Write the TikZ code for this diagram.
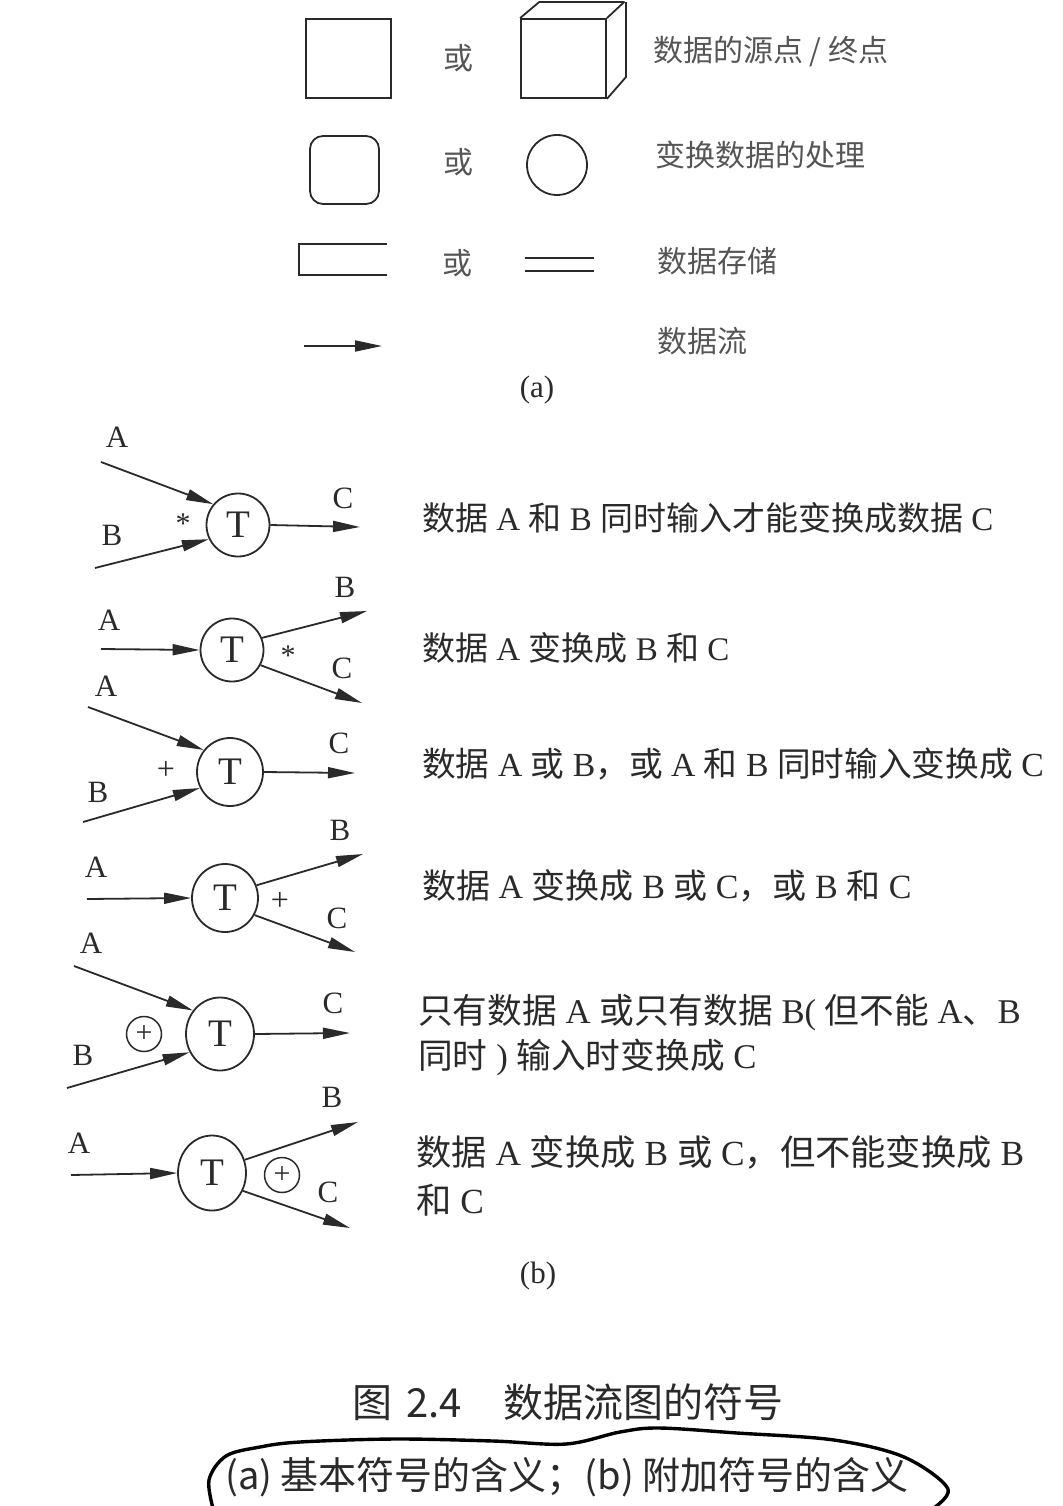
\documentclass[tikz,border=0pt]{standalone}
\usepackage{fontspec}
\setmainfont{Liberation Serif}
\newfontfamily\cjk{Noto Sans CJK SC}
\usetikzlibrary{arrows.meta,shapes.geometric}
\newcommand\zh[1]{{\cjk #1}}
\definecolor{ink}{HTML}{2A2A2A}
\definecolor{softink}{HTML}{555555}

\begin{document}
\begin{tikzpicture}[x=1pt,y=-1pt,
  shape line/.style={draw=ink, line width=1.8pt},
  flow/.style={draw=ink, line width=1.8pt, -{Triangle[length=27pt,width=11pt]}},
  proc/.style={ellipse, draw=ink, line width=1.8pt, inner sep=0pt, text=ink,
               font=\fontsize{39}{39}\selectfont},
  xorc/.style={circle, draw=ink, line width=1.5pt, inner sep=0pt, minimum size=35pt,
               text=ink, font=\fontsize{30}{30}\selectfont},
  lbl/.style={text=ink, inner sep=0pt, font=\fontsize{31}{31}\selectfont},
  opmark/.style={text=ink, inner sep=0pt, font=\fontsize{30}{30}\selectfont},
  plusmark/.style={text=ink, inner sep=0pt, font=\fontsize{32}{32}\selectfont},
  legend/.style={anchor=west, inner sep=0pt, text=softink, font=\fontsize{30}{30}\cjk},
  ortxt/.style={inner sep=0pt, text=softink, font=\fontsize{30}{30}\cjk},
  meaning/.style={anchor=west, inner sep=0pt, text=ink, align=left},
]
\useasboundingbox (0,0) rectangle (1062,1506);
\clip (0,0) rectangle (1062,1506);
\fill[white] (0,0) rectangle (1062,1506);

% ---------- (a) basic symbols ----------
% source / sink
\node[shape line, minimum width=85pt, minimum height=79pt] (src) at (348.5,58.5) {};
\node[ortxt] (or1) at (458,58) {或};
\node[shape line, minimum width=85pt, minimum height=79pt] (cube) at (563.5,58.5) {};
\draw[shape line, line join=round] (cube.north west) -- ++(19,-16) -- ++(85,0) -- (cube.north east);
\draw[shape line, line join=round] (cube.north east) ++(19,-16) -- ++(0,75) -- (cube.south east);
\node[legend] (t-src) at (653,52) {数据的源点 / 终点};

% process
\node[shape line, rounded corners=13pt, minimum width=69pt, minimum height=68pt] (prc) at (344.5,170) {};
\node[ortxt] (or2) at (458,162) {或};
\node[shape line, circle, minimum size=60pt, inner sep=0pt] (bubble) at (557,165) {};
\node[legend] (t-prc) at (655,155) {变换数据的处理};

% data store
\draw[shape line] (387,244) -- (299,244) -- (299,275) -- (387,275);
\node[ortxt] (or3) at (457,263) {或};
\draw[shape line] (525,258) -- (594,258);
\draw[shape line] (525,271) -- (594,271);
\node[legend] (t-store) at (657,261) {数据存储};

% data flow
\coordinate (fs) at (304,346);
\coordinate (fe) at (382,346);
\draw[flow] (fs) -- (fe);
\node[legend] (t-flow) at (657,341) {数据流};

\node[lbl] (cap-a) at (537,390) {(a)};

% ---------- (b) additional symbols ----------
% row 1: A and B together -> C
\node[proc, minimum width=63pt, minimum height=63pt] (t1) at (238,525) {T};
\coordinate (a1) at (101,462);
\coordinate (b1) at (95,568);
\coordinate (c1) at (360,527);
\draw[flow] (a1) -- (t1.140);
\draw[flow] (b1) -- (t1.206);
\draw[flow] (t1.east) -- (c1);
\node[lbl] (la1) at (117,437) {A};
\node[lbl] (lb1) at (112,535) {B};
\node[lbl] (lc1) at (343,498) {C};
\node[opmark] (m1) at (183,524) {*};

% row 2: A -> B and C
\node[proc, minimum width=63pt, minimum height=63pt] (t2) at (232,650) {T};
\coordinate (a2) at (101,649);
\coordinate (b2) at (367,611);
\coordinate (c2) at (362,703);
\draw[flow] (a2) -- (t2.west);
\draw[flow] (t2.22) -- (b2);
\draw[flow] (t2.-28) -- (c2);
\node[lbl] (la2) at (109,620) {A};
\node[lbl] (lb2) at (345,587) {B};
\node[lbl] (lc2) at (342,668) {C};
\node[opmark] (m2) at (288,656) {*};

% row 3: A or B (or both) -> C
\node[proc, minimum width=66pt, minimum height=68pt] (t3) at (230,772) {T};
\coordinate (a3) at (88,707);
\coordinate (b3) at (83,822);
\coordinate (c3) at (355,773);
\draw[flow] (a3) -- (t3.140);
\draw[flow] (b3) -- (t3.208);
\draw[flow] (t3.east) -- (c3);
\node[lbl] (la3) at (106,686) {A};
\node[lbl] (lb3) at (98,792) {B};
\node[lbl] (lc3) at (339,743) {C};
\node[plusmark] (m3) at (166,770) {+};

% row 4: A -> B or C (or both)
\node[proc, minimum width=66pt, minimum height=68pt] (t4) at (225,898) {T};
\coordinate (a4) at (87,899);
\coordinate (b4) at (363,854);
\coordinate (c4) at (355,952);
\draw[flow] (a4) -- (t4.west);
\draw[flow] (t4.22) -- (b4);
\draw[flow] (t4.-30) -- (c4);
\node[lbl] (la4) at (96,867) {A};
\node[lbl] (lb4) at (340,830) {B};
\node[lbl] (lc4) at (337,918) {C};
\node[plusmark] (m4) at (280,901) {+};

% row 5: exactly one of A, B -> C
\node[proc, minimum width=68pt, minimum height=73pt] (t5) at (220,1034) {T};
\coordinate (a5) at (74,966);
\coordinate (b5) at (67,1088);
\coordinate (c5) at (350,1033);
\draw[flow] (a5) -- (t5.139);
\draw[flow] (b5) -- (t5.211);
\draw[flow] (t5.east) -- (c5);
\node[lbl] (la5) at (91,943) {A};
\node[lbl] (lb5) at (83,1055) {B};
\node[lbl] (lc5) at (333,1003) {C};
\node[xorc] (x5) at (144,1034) {+};

% row 6: A -> B or C, not both
\node[proc, minimum width=68pt, minimum height=75pt] (t6) at (212,1173) {T};
\coordinate (a6) at (71,1175);
\coordinate (b6) at (358,1122);
\coordinate (c6) at (350,1228);
\draw[flow] (a6) -- (t6.west);
\draw[flow] (t6.22) -- (b6);
\draw[flow] (t6.-30) -- (c6);
\node[lbl] (la6) at (79,1143) {A};
\node[lbl] (lb6) at (332,1097) {B};
\node[lbl] (lc6) at (328,1192) {C};
\node[xorc] (x6) at (282,1175) {+};

% meanings
\node[meaning, font=\fontsize{33}{46}\selectfont] (d1) at (422,518)
  {\zh{数据} A \zh{和} B \zh{同时输入才能变换成数据} C};
\node[meaning, font=\fontsize{33}{46}\selectfont] (d2) at (422,648)
  {\zh{数据} A \zh{变换成} B \zh{和} C};
\node[meaning, font=\fontsize{33.7}{46}\selectfont] (d3) at (422,764)
  {\zh{数据} A \zh{或} B\zh{，}\zh{或} A \zh{和} B \zh{同时输入变换成} C};
\node[meaning, font=\fontsize{34}{46}\selectfont] (d4) at (422,886)
  {\zh{数据} A \zh{变换成} B \zh{或} C\zh{，}\zh{或} B \zh{和} C};
\node[meaning, font=\fontsize{34.7}{45}\selectfont] (d5) at (418,1035)
  {\zh{只有数据} A \zh{或只有数据} B( \zh{但不能} A\zh{、}B\\ \zh{同时} ) \zh{输入时变换成} C};
\node[meaning, font=\fontsize{35.3}{48}\selectfont] (d6) at (416,1176)
  {\zh{数据} A \zh{变换成} B \zh{或} C\zh{，}\zh{但不能变换成} B\\ \zh{和} C};

\node[lbl] (cap-b) at (538,1276) {(b)};

% ---------- caption ----------
\node[inner sep=0pt, text=ink, font=\fontsize{40}{40}\cjk] (title) at (568,1402)
  {图\hspace{14pt}2.4\hspace{42pt}数据流图的符号};
\node[inner sep=0pt, text=ink, font=\fontsize{38}{38}\cjk] (subtitle) at (567,1477)
  {(a) 基本符号的含义；(b) 附加符号的含义};

% hand-drawn loop around the subtitle
\draw[line width=3.4pt, line cap=round, line join=round, black]
  plot[smooth, tension=0.55] coordinates {(214,1512) (209,1480) (226,1456) (260,1447)
  (300,1442) (395,1439) (493,1441) (566,1444) (620,1432) (659,1428) (737,1433)
  (834,1440) (904,1457) (948,1489) (928,1512)};
\end{tikzpicture}
\end{document}
